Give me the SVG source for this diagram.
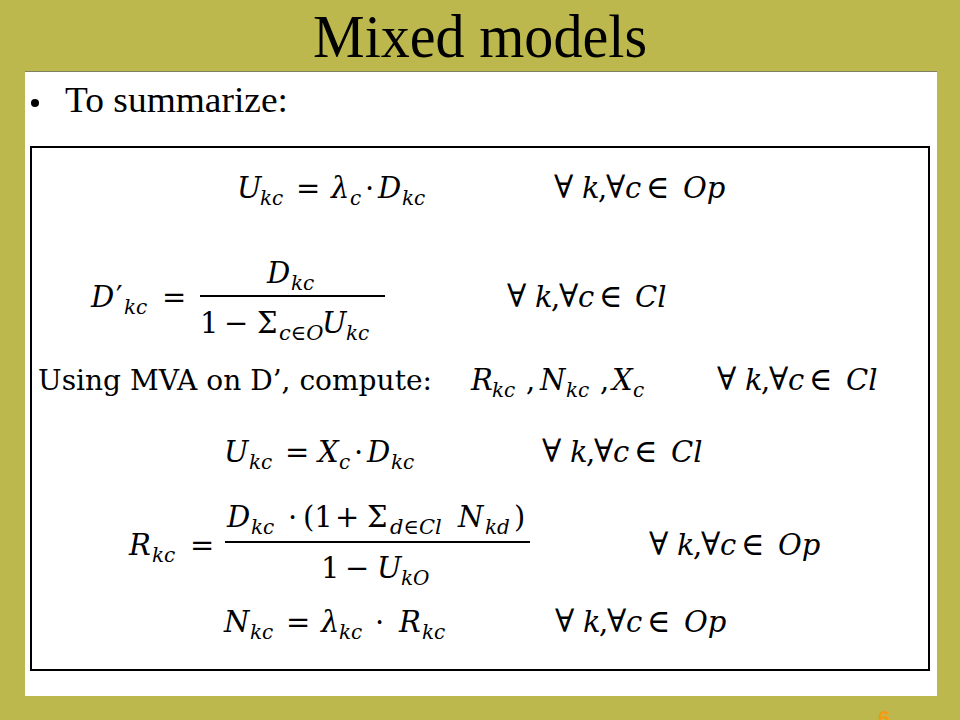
<svg xmlns="http://www.w3.org/2000/svg" width="960" height="720" viewBox="0 0 960 720">
<style>
.m{font-family:"DejaVu Serif",serif;font-style:italic;font-size:29px;fill:#000}
.r{font-style:normal}
.q{font-style:normal;font-size:32px}
.s{font-size:20px}
.ss{font-size:21px}
.t{font-family:"Liberation Serif","DejaVu Serif",serif;fill:#000}
.u{font-family:"DejaVu Serif",serif;fill:#000}
</style>
<rect width="960" height="720" fill="#BCB84D"/>
<g id="panel">
<rect x="25" y="72" width="912" height="624" fill="#FFFFFF"/>
<line x1="25" y1="71.5" x2="937" y2="71.5" stroke="#7F7F5F" stroke-width="1"/>
</g>
<g id="title"><text class="t" x="313" y="57" font-size="62" textLength="334" lengthAdjust="spacingAndGlyphs">Mixed models</text></g>
<g id="bullet">
<circle cx="35" cy="103" r="4" fill="#000"/>
<text class="t" x="65" y="112" font-size="35" textLength="223" lengthAdjust="spacingAndGlyphs">To summarize:</text>
</g>
<g id="box"><rect x="31" y="147" width="898" height="523" fill="none" stroke="#000" stroke-width="2"/></g>
<g id="eq1">
<text class="m" y="198"><tspan x="237">U</tspan><tspan class="s" x="260" y="205">kc</tspan><tspan class="r" x="296" y="198">=</tspan><tspan x="331">λ</tspan><tspan class="s" x="350" y="205">c</tspan><tspan class="r" x="365" y="198">·</tspan><tspan x="378">D</tspan><tspan class="s" x="402" y="205">kc</tspan></text>
<text class="m" y="198"><tspan class="q" x="554">∀</tspan><tspan x="582">k</tspan><tspan class="r" x="598">,</tspan><tspan class="q" x="606">∀</tspan><tspan x="625">c</tspan><tspan class="q" x="646">∈</tspan><tspan x="683">Op</tspan></text>
</g>
<g id="eq2">
<text class="m" y="307"><tspan x="91">D</tspan><tspan class="r" x="116">′</tspan><tspan class="s" x="124" y="314">kc</tspan><tspan class="r" x="162" y="307">=</tspan></text>
<line x1="200" y1="296" x2="385" y2="296" stroke="#000" stroke-width="2"/>
<text class="m" y="283"><tspan x="267">D</tspan><tspan class="s" x="291" y="290">kc</tspan></text>
<text class="m" y="333"><tspan class="r" x="200">1</tspan><tspan class="r" x="224">−</tspan><tspan class="r" x="257">Σ</tspan><tspan class="ss" x="279" y="340">c∈O</tspan><tspan x="322" y="333">U</tspan><tspan class="s" x="346" y="340">kc</tspan></text>
<text class="m" y="307"><tspan class="q" x="507">∀</tspan><tspan x="535">k</tspan><tspan class="r" x="551">,</tspan><tspan class="q" x="559">∀</tspan><tspan x="578">c</tspan><tspan class="q" x="599">∈</tspan><tspan x="635">Cl</tspan></text>
</g>
<g id="eq3">
<text class="u" x="38" y="390" font-size="28" textLength="394" lengthAdjust="spacingAndGlyphs">Using MVA on D’, compute:</text>
<text class="m" y="390"><tspan x="471">R</tspan><tspan class="s" x="492" y="397">kc</tspan><tspan class="r" x="526" y="390">,</tspan><tspan x="540">N</tspan><tspan class="s" x="566" y="397">kc</tspan><tspan class="r" x="600" y="390">,</tspan><tspan x="612">X</tspan><tspan class="s" x="633" y="397">c</tspan></text>
<text class="m" y="390"><tspan class="q" x="717">∀</tspan><tspan x="745">k</tspan><tspan class="r" x="761">,</tspan><tspan class="q" x="769">∀</tspan><tspan x="788">c</tspan><tspan class="q" x="809">∈</tspan><tspan x="846">Cl</tspan></text>
</g>
<g id="eq4">
<text class="m" y="462"><tspan x="224">U</tspan><tspan class="s" x="249" y="469">kc</tspan><tspan class="r" x="285" y="462">=</tspan><tspan x="318">X</tspan><tspan class="s" x="339" y="469">c</tspan><tspan class="r" x="354" y="462">·</tspan><tspan x="367">D</tspan><tspan class="s" x="391" y="469">kc</tspan></text>
<text class="m" y="462"><tspan class="q" x="542">∀</tspan><tspan x="570">k</tspan><tspan class="r" x="586">,</tspan><tspan class="q" x="594">∀</tspan><tspan x="613">c</tspan><tspan class="q" x="634">∈</tspan><tspan x="671">Cl</tspan></text>
</g>
<g id="eq5">
<text class="m" y="555"><tspan x="129">R</tspan><tspan class="s" x="152" y="562">kc</tspan><tspan class="r" x="190" y="555">=</tspan></text>
<line x1="225" y1="542" x2="530" y2="542" stroke="#000" stroke-width="2"/>
<text class="m" y="527"><tspan x="227">D</tspan><tspan class="s" x="251" y="534">kc</tspan><tspan class="r" x="288" y="527">·</tspan><tspan class="r" x="303">(1</tspan><tspan class="r" x="335">+</tspan><tspan class="r" x="367">Σ</tspan><tspan class="ss" x="390" y="534">d∈Cl</tspan><tspan x="458" y="527">N</tspan><tspan class="s" x="485" y="534">kd</tspan><tspan class="r" x="514" y="527">)</tspan></text>
<text class="m" y="578"><tspan class="r" x="321">1</tspan><tspan class="r" x="345">−</tspan><tspan x="377">U</tspan><tspan class="s" x="401" y="585">kO</tspan></text>
<text class="m" y="555"><tspan class="q" x="649">∀</tspan><tspan x="677">k</tspan><tspan class="r" x="693">,</tspan><tspan class="q" x="701">∀</tspan><tspan x="720">c</tspan><tspan class="q" x="741">∈</tspan><tspan x="778">Op</tspan></text>
</g>
<g id="eq6">
<text class="m" y="632"><tspan x="224">N</tspan><tspan class="s" x="250" y="639">kc</tspan><tspan class="r" x="286" y="632">=</tspan><tspan x="321">λ</tspan><tspan class="s" x="339" y="639">kc</tspan><tspan class="r" x="375" y="632">·</tspan><tspan x="399">R</tspan><tspan class="s" x="422" y="639">kc</tspan></text>
<text class="m" y="632"><tspan class="q" x="555">∀</tspan><tspan x="583">k</tspan><tspan class="r" x="599">,</tspan><tspan class="q" x="607">∀</tspan><tspan x="626">c</tspan><tspan class="q" x="647">∈</tspan><tspan x="684">Op</tspan></text>
</g>
<g id="page"><text x="878" y="726" font-family="Liberation Sans,DejaVu Sans,sans-serif" font-weight="bold" font-size="22" fill="#F39C12">6</text></g>
</svg>
